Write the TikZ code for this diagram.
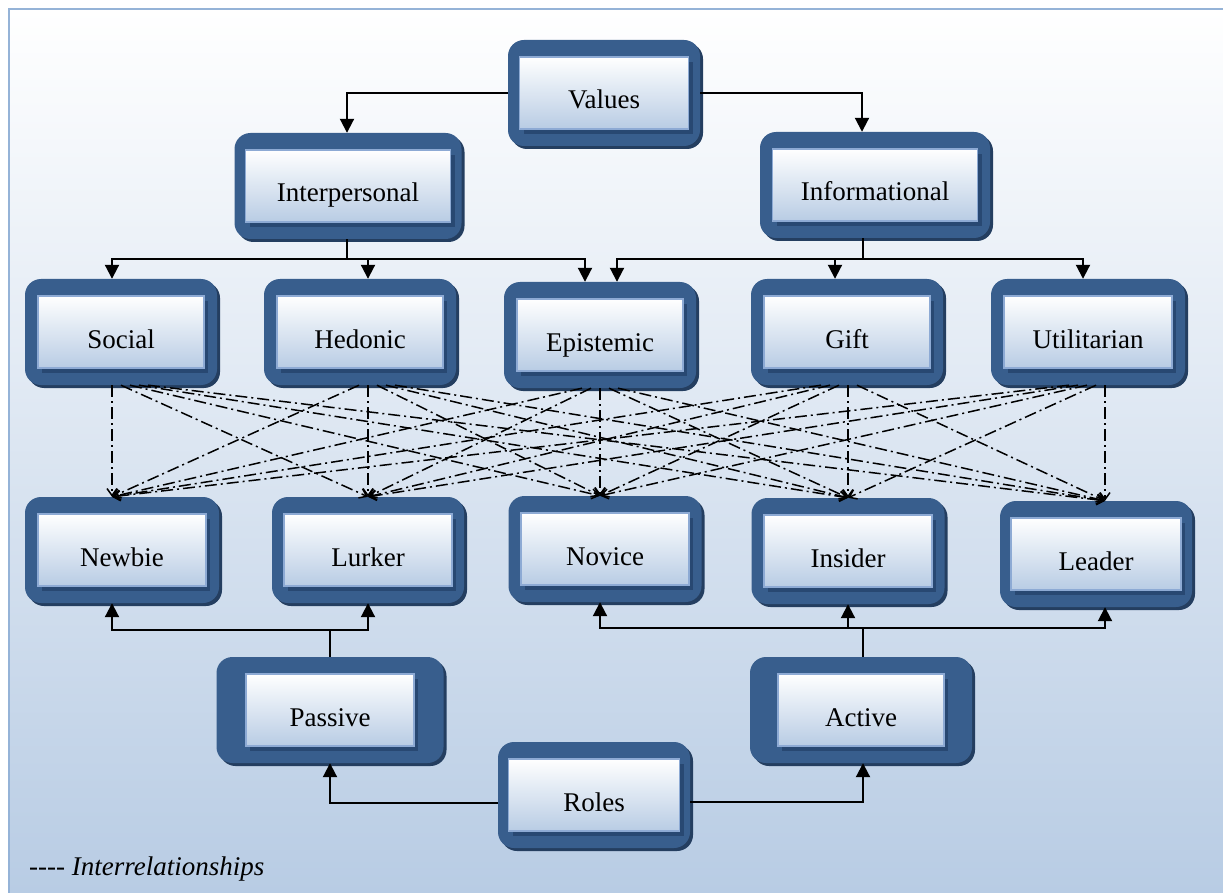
\documentclass[tikz,border=0pt]{standalone}
\usepackage{fontspec}
\setmainfont{Liberation Serif}
\usetikzlibrary{arrows.meta,shadows,calc}
\definecolor{outfill}{RGB}{56,94,141}
\definecolor{outshadow}{RGB}{36,62,96}
\definecolor{inshadow}{RGB}{40,72,114}
\definecolor{inborder}{RGB}{141,170,212}
\definecolor{inbot}{RGB}{184,204,228}
\definecolor{bgbot}{RGB}{184,204,228}
\definecolor{bord}{RGB}{149,179,215}
\tikzset{
 outerbox/.style={draw=none, fill=outfill, rounded corners=16pt, minimum height=106pt, inner sep=0pt,
   drop shadow={shadow xshift=3pt, shadow yshift=-3pt, fill=outshadow, opacity=1}},
 innerbox/.style={draw=inborder, line width=1.5pt, top color=white, bottom color=inbot, minimum height=72pt, inner sep=0pt,
   drop shadow={shadow xshift=4pt, shadow yshift=-5pt, fill=inshadow, opacity=1}},
 lbl/.style={font=\fontsize{27}{31}\selectfont, anchor=base, inner sep=0pt, text=black},
 conn/.style={line width=2pt, draw=black},
 tip/.style={-{Triangle[width=14pt,length=14pt]}},
 inter/.style={line width=1.5pt, dash pattern=on 12pt off 4pt on 2pt off 4pt, -{Straight Barb[length=7pt,width=10pt]}},
}
\newcommand\vbx[6]{%
 \node[outerbox, minimum width=#4pt] (#1) at (#2,#3) {};
 \node[innerbox, minimum width=#5pt] (#1-in) at (#2,#3) {};
 \node[lbl] (#1-t) at ([yshift=-16pt]#1-in.center) {#6};
}
\begin{document}
\begin{tikzpicture}[x=1pt,y=-1pt]
\useasboundingbox (0,0) rectangle (1223,893);
% background
\shade[top color=white, bottom color=bgbot] (9,9) rectangle (1223,893);
\draw[bord, line width=2.5pt] (9,893) -- (9,9) -- (1223,9);
% boxes
\vbx{values}{604}{93}{192}{169}{Values}
\vbx{interp}{348}{186}{227}{205}{Interpersonal}
\vbx{info}{875}{185}{230}{205}{Informational}
\vbx{social}{121}{332}{192}{166}{Social}
\vbx{hedonic}{360}{332}{192}{166}{Hedonic}
\vbx{epist}{600}{335}{192}{166}{Epistemic}
\vbx{gift}{847}{332}{192}{166}{Gift}
\vbx{util}{1088}{332}{194}{168}{Utilitarian}
\vbx{newbie}{122}{550}{194}{168}{Newbie}
\vbx{lurker}{368}{550}{192}{168}{Lurker}
\vbx{novice}{605}{549}{193}{168}{Novice}
\vbx{insider}{848}{551}{193}{168}{Insider}
\vbx{leader}{1096}{554}{192}{170}{Leader}
\vbx{passive}{330}{710}{227}{168}{Passive}
\vbx{active}{861}{710}{222}{166}{Active}
\vbx{roles}{594}{795}{192}{171}{Roles}
% top connectors
\draw[conn,tip] (values.west) -| ([xshift=-1pt]interp.north);
\draw[conn,tip] (values.east) -| ([xshift=-13pt]info.north);
\coordinate (j1) at (347,259);
\coordinate (j2) at (863,259);
\draw[conn] ([xshift=-1pt]interp.south) -- (j1);
\draw[conn,tip] (j1) -| ([xshift=-9pt]social.north);
\draw[conn,tip] (j1) -| ([xshift=8pt]hedonic.north);
\draw[conn,tip] (j1) -| ([xshift=-15pt]epist.north);
\draw[conn] ([xshift=-12pt]info.south) -- (j2);
\draw[conn,tip] (j2) -| ([xshift=17pt]epist.north);
\draw[conn,tip] (j2) -| ([xshift=-12pt]gift.north);
\draw[conn,tip] (j2) -| ([xshift=-5pt]util.north);
% bottom connectors
\coordinate (j3) at (330,630);
\coordinate (j4) at (863,628);
\draw[conn] (passive.north) -- (j3);
\draw[conn,tip] (j3) -| ([xshift=-10pt]newbie.south);
\draw[conn,tip] (j3) -| (lurker.south);
\draw[conn] ([xshift=2pt]active.north) -- (j4);
\draw[conn,tip] (j4) -| ([xshift=-5pt]novice.south);
\draw[conn,tip] (j4) -| (insider.south);
\draw[conn,tip] (j4) -| ([xshift=9pt]leader.south);
\draw[conn,tip] ([yshift=-8pt]roles.west) -| (passive.south);
\draw[conn,tip] ([yshift=-7pt]roles.east) -| ([xshift=2pt]active.south);
% interrelationships
\foreach \v/\vo [count=\i] in {social/-9, hedonic/8, epist/0, gift/1, util/17}{
 \foreach \r/\ro [count=\j] in {newbie/-10, lurker/0, novice/-5, insider/0, leader/9}{
   \pgfmathsetmacro\dx{\vo+9*(\j-\i)}
   \draw[inter] ([xshift=\dx pt]\v.south) -- ([xshift=\ro pt]\r.north);
 }}
% legend
\node[anchor=base west, inner sep=0pt, font=\fontsize{27}{31}\selectfont\itshape] (legend) at (29,875) {{-}{-}{-}{-} Interrelationships};
\end{tikzpicture}
\end{document}
